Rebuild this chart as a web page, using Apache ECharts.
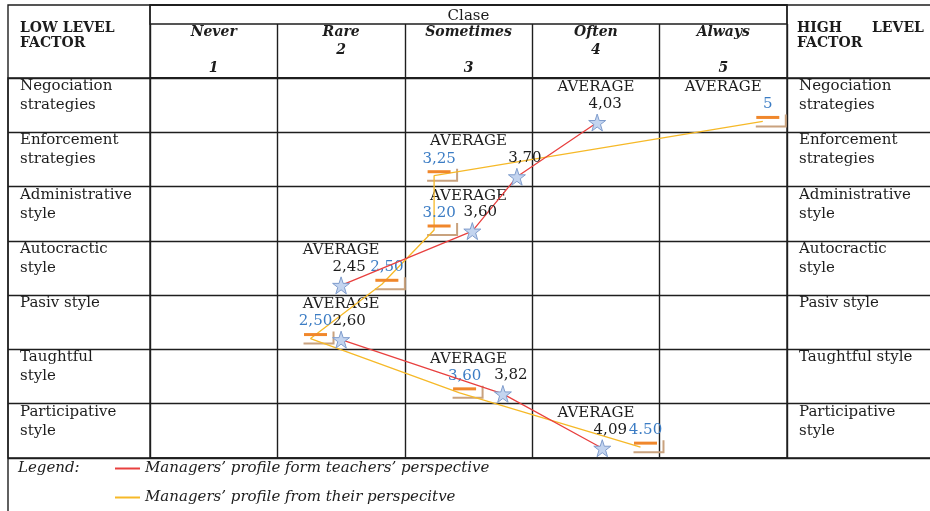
<!DOCTYPE html>
<html>
<head>
<meta charset="utf-8">
<script src="https://cdn.jsdelivr.net/npm/echarts@6/dist/echarts.min.js"></script>
<style>
  html, body { margin: 0; padding: 0; background: #fff; }
  #chart { width: 930px; height: 511px; }
</style>
</head>
<body>
<div id="chart"></div>
<script>
// columns of the scale
const classes = ['Never', 'Rare', 'Sometimes', 'Often', 'Always'];
const classNumbers = ['1', '2', '3', '4', '5'];

// rows (factors), as written in the left and right columns
const factorsLeft = [
  'Negociation\nstrategies', 'Enforcement\nstrategies', 'Administrative\nstyle',
  'Autocractic\nstyle', 'Pasiv style', 'Taughtful\nstyle', 'Participative\nstyle'
];
const factorsRight = [
  'Negociation\nstrategies', 'Enforcement\nstrategies', 'Administrative\nstyle',
  'Autocractic\nstyle', 'Pasiv style', 'Taughtful style', 'Participative\nstyle'
];

// managers' profile from teachers' perspective (red line, stars)
const teachersName = 'Managers\u2019 profile form teachers\u2019 perspective';
const teachersPos = [4.01, 3.38, 3.03, 2.0, 2.0, 3.27, 4.05];   // where each point sits on the 1-5 scale
const teachersAvg = ['4,03', '3,70', '3,60', '2,45', '2,60', '3,82', '4,09'];
const teachersBreakAfter = 3; // line is not drawn between Autocractic and Pasiv

// managers' profile from their own perspective (yellow line)
const selfName = 'Managers\u2019 profile from their perspecitve';
const selfPos = [5.31, 2.73, 2.73, 2.32, 1.76, 2.93, 4.35];
const selfAvg = ['5', '3,25', '3.20', '2,50', '2,50', '3,60', '4.50'];

const serif = 'DejaVu Serif';
const ink = '#1c1c1c';
const rule = '#1e1e1e';
const red = '#e8403f';
const yellow = '#f6b928';
const starPath = 'path://M50,0 L61.8,35.1 L98.9,35.1 L69.1,56.7 L80.3,91.9 L50,70.3 L19.7,91.9 L30.9,56.7 L1.1,35.1 L38.2,35.1 Z';
const bracketPath = 'path://M0,11 L29,11 L29,0 L31,0 L31,13 L0,13 Z';

function linePoints(pos, labels, shift, breakAfter) {
  const pts = [];
  pos.forEach((x, i) => {
    pts.push({ name: labels[i], value: [x, i + shift] });
    if (i === breakAfter) pts.push('-');
  });
  return pts;
}

// one "AVERAGE" heading per cell holding a point
const avgCells = [];
const seen = {};
[teachersPos, selfPos].forEach(pos => pos.forEach((x, i) => {
  const c = Math.round(x);
  if (!seen[i + '_' + c]) {
    seen[i + '_' + c] = true;
    avgCells.push([c, i + 0.17]);
  }
}));

function padLines(s) {
  const n = s.split('\n').length;
  return s + '\n '.repeat(3 - n);
}

const frame = {
  show: true, borderColor: rule, borderWidth: 1.4, backgroundColor: 'transparent',
  outerBoundsMode: 'none', containLabel: false
};
const hiddenX = i => ({ gridIndex: i, type: 'value', show: false });
const hiddenY = i => ({ gridIndex: i, type: 'value', show: false });
const rowLabel = { fontFamily: serif, fontSize: 15, lineHeight: 19, color: ink, interval: 0 };
const headText = { fontFamily: serif, fontSize: 14, fontWeight: 'bold', lineHeight: 15, color: ink };

const chart = echarts.init(document.getElementById('chart'));
chart.setOption({
  animation: false,
  textStyle: { fontFamily: serif },
  title: [
    { text: 'LOW LEVEL\nFACTOR', left: 20, top: 21, padding: 0, textStyle: headText },
    {
      text: '{a|HIGH}{b|LEVEL}\n{b|FACTOR}', left: 797, top: 21, padding: 0,
      textStyle: { rich: { a: Object.assign({ width: 75 }, headText), b: headText } }
    },
    {
      text: 'Legend:', left: 18, top: 461, padding: 0,
      textStyle: { fontFamily: serif, fontSize: 15, fontStyle: 'italic', fontWeight: 'normal', color: ink }
    }
  ],
  legend: {
    orient: 'vertical', left: 115, top: 461, padding: 0, itemGap: 14,
    itemWidth: 25, itemHeight: 2, icon: 'rect', selectedMode: false,
    textStyle: { fontFamily: serif, fontSize: 15, fontStyle: 'italic', color: ink },
    data: [
      { name: teachersName, itemStyle: { color: red, borderWidth: 0 } },
      { name: selfName, itemStyle: { color: yellow, borderWidth: 0 } }
    ]
  },
  grid: [
    Object.assign({ left: 150, right: 143, top: 78, bottom: 53 }, frame),
    Object.assign({ left: 8, right: -2, top: 78, bottom: 53 }, frame),
    Object.assign({ left: 150, right: 143, top: 5, height: 73 }, frame),
    Object.assign({ left: 150, right: 143, top: 5, height: 19 }, frame),
    Object.assign({ left: 8, right: -2, top: 5, bottom: -5 }, frame)
  ],
  xAxis: [
    {
      gridIndex: 0, type: 'category', data: classes, position: 'top',
      name: 'Clase', nameLocation: 'middle', nameGap: 54, nameMoveOverlap: false,
      nameTextStyle: { fontFamily: serif, fontSize: 15, color: ink },
      axisLine: { show: false, onZero: false },
      axisTick: { show: true, length: 54, lineStyle: { color: rule, width: 1.4 } },
      splitLine: { show: true, lineStyle: { color: rule, width: 1.4 } },
      axisLabel: {
        interval: 0, margin: 1, fontFamily: serif, fontSize: 14, lineHeight: 18,
        fontWeight: 'bold', fontStyle: 'italic', color: ink,
        formatter: (v, i) => (i % 2 === 1)
          ? v + '\n' + classNumbers[i] + '\n '
          : v + '\n\n' + classNumbers[i]
      }
    },
    { gridIndex: 0, type: 'value', min: 0.5, max: 5.5, show: false },
    hiddenX(1), hiddenX(2), hiddenX(3), hiddenX(4)
  ],
  yAxis: [
    {
      gridIndex: 0, type: 'category', data: factorsLeft, inverse: true, position: 'left',
      axisLine: { show: false }, axisTick: { show: false },
      axisLabel: Object.assign({ margin: 130, align: 'left', formatter: padLines }, rowLabel)
    },
    {
      gridIndex: 0, type: 'category', data: factorsRight, inverse: true, position: 'right',
      axisLine: { show: false }, axisTick: { show: false },
      axisLabel: Object.assign({ margin: 12, align: 'left', formatter: padLines }, rowLabel)
    },
    { gridIndex: 0, type: 'value', min: 0, max: 7, inverse: true, show: false },
    {
      gridIndex: 1, type: 'category', data: factorsLeft, inverse: true,
      axisLine: { show: false }, axisTick: { show: false }, axisLabel: { show: false },
      splitLine: { show: true, lineStyle: { color: rule, width: 1.4 } }
    },
    hiddenY(2), hiddenY(3), hiddenY(4)
  ],
  series: [
    {
      name: 'AVERAGE', type: 'scatter', xAxisIndex: 1, yAxisIndex: 2,
      data: avgCells, symbolSize: 0.1, itemStyle: { color: ink, opacity: 1 }, silent: true,
      label: {
        show: true, position: 'inside', formatter: 'AVERAGE', opacity: 1,
        fontFamily: serif, fontSize: 15, color: ink, textBorderWidth: 0
      }
    },
    {
      name: 'bracket', type: 'scatter', xAxisIndex: 1, yAxisIndex: 2,
      data: selfPos.map((x, i) => [x, i + 0.8]), silent: true,
      symbol: bracketPath, symbolSize: [31, 13], symbolOffset: [8.5, -0.5],
      itemStyle: { color: '#c9a27e', opacity: 1 }, z: 2
    },
    {
      name: selfName, type: 'line', xAxisIndex: 1, yAxisIndex: 2,
      data: linePoints(selfPos, selfAvg, 0.8, -1),
      symbol: 'rect', symbolSize: [23, 3], symbolOffset: [5, -4],
      itemStyle: { color: '#f0872b' },
      lineStyle: { color: yellow, width: 1.3 }, z: 3,
      label: {
        show: true, position: 'top', distance: 4, formatter: '{b}',
        fontFamily: serif, fontSize: 15, color: '#3b7cc4'
      }
    },
    {
      name: teachersName, type: 'line', xAxisIndex: 1, yAxisIndex: 2,
      data: linePoints(teachersPos, teachersAvg, 0.82, teachersBreakAfter),
      symbol: starPath, symbolSize: 17,
      itemStyle: { color: '#c3d4ef', borderColor: '#7f9ccc', borderWidth: 1 },
      lineStyle: { color: red, width: 1.3 }, z: 4,
      label: {
        show: true, position: 'top', distance: 2, offset: [8, 0], formatter: '{b}',
        fontFamily: serif, fontSize: 15, color: ink
      }
    }
  ]
});
</script>
</body>
</html>
